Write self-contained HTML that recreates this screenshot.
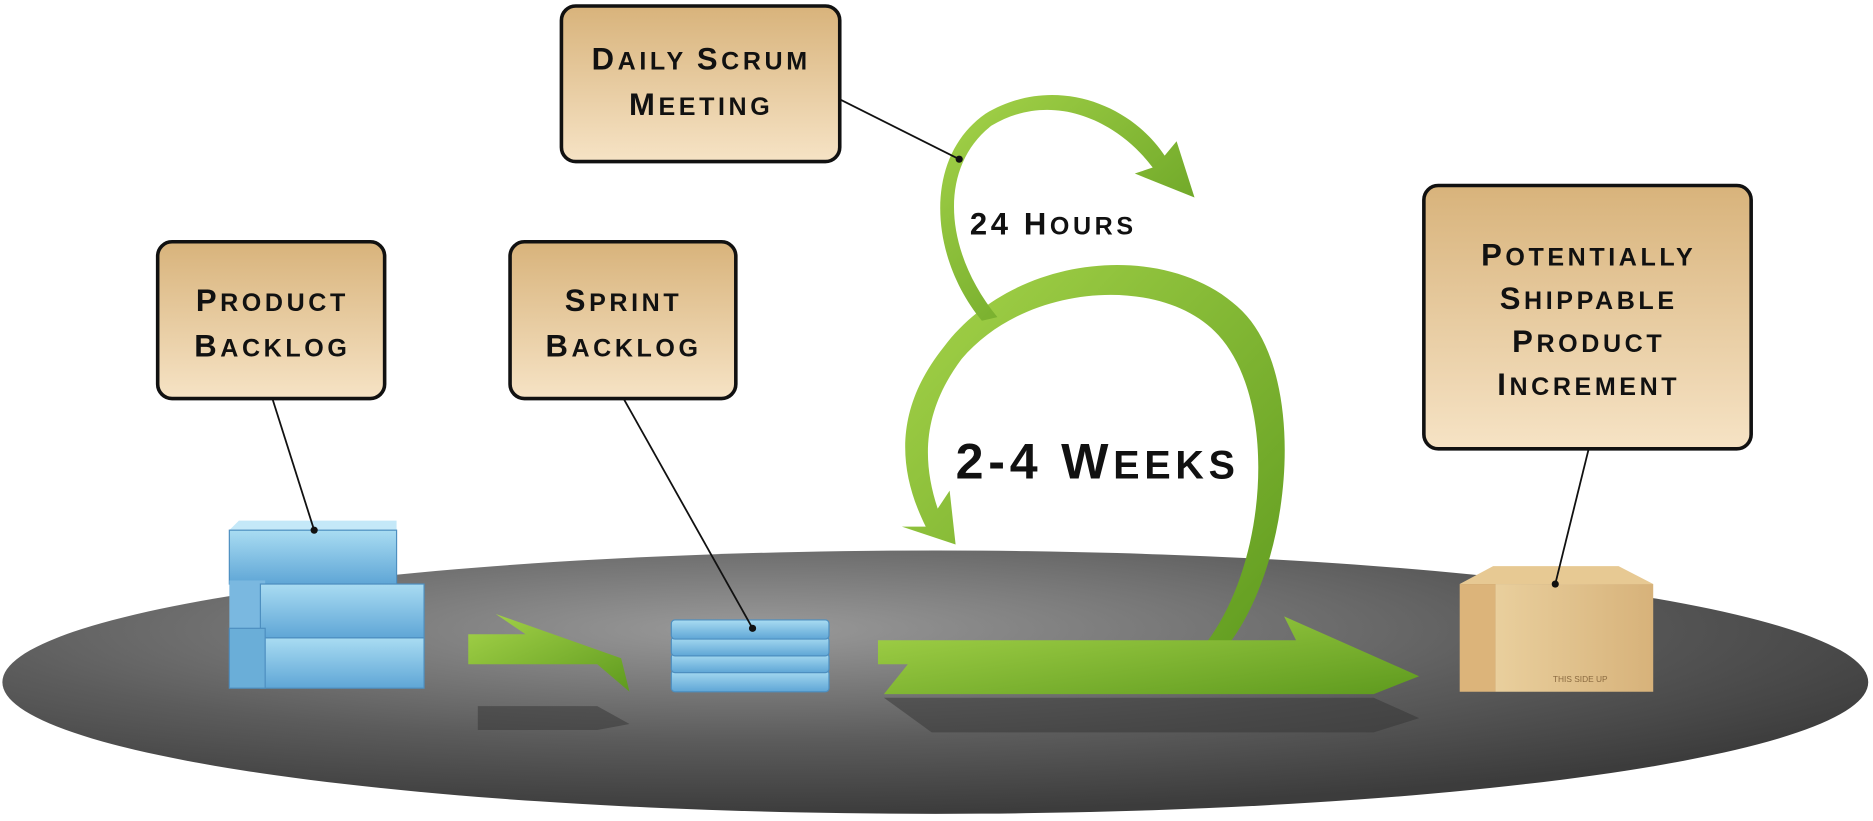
<!DOCTYPE html>
<html><head><meta charset="utf-8"><style>
html,body{margin:0;padding:0;background:#fff;}
svg{display:block;}
text{font-family:"Liberation Sans",sans-serif;font-weight:bold;fill:#111;letter-spacing:3px;}
.b{font-size:21px;}
.b tspan.c{font-size:26px;}
</style></head><body>
<svg width="1873" height="821" viewBox="0 0 1568 686" preserveAspectRatio="none">
<defs>
<radialGradient id="plat" cx="0.4" cy="0.3" r="0.7">
<stop offset="0" stop-color="#9a9a9a"/><stop offset="0.6" stop-color="#5c5c5c"/><stop offset="1" stop-color="#3c3c3c"/>
</radialGradient>
<linearGradient id="tan" x1="0" y1="0" x2="0" y2="1">
<stop offset="0" stop-color="#d8b37b"/><stop offset="1" stop-color="#f6e3c5"/>
</linearGradient>
<linearGradient id="grn" x1="0" y1="0" x2="1" y2="1">
<stop offset="0" stop-color="#a6d44a"/><stop offset="1" stop-color="#5e9a1e"/>
</linearGradient>
<linearGradient id="blu" x1="0" y1="0" x2="0" y2="1">
<stop offset="0" stop-color="#a9dcf2"/><stop offset="1" stop-color="#5fa6d6"/>
</linearGradient>
<linearGradient id="box" x1="0" y1="0" x2="1" y2="0">
<stop offset="0" stop-color="#e9cf9d"/><stop offset="1" stop-color="#d7b27a"/>
</linearGradient>
</defs>

<ellipse cx="783" cy="570" rx="781" ry="110" fill="url(#plat)"/>

<polygon points="400,590 500,590 527,605 500,610 400,610" fill="#333" opacity="0.5"/>
<polygon points="740,583 1150,583 1188,600 1150,612 780,612" fill="#333" opacity="0.5"/>

<g>
<polygon points="192,443 200,435 332,435 332,443" fill="#c4e8f8"/>
<rect x="192" y="443" width="140" height="45" fill="url(#blu)" stroke="#4d8fc0"/>
<rect x="192" y="485" width="30" height="90" fill="#7ab8e0"/>
<rect x="218" y="488" width="137" height="45" fill="url(#blu)" stroke="#4d8fc0"/>
<rect x="218" y="533" width="137" height="42" fill="url(#blu)" stroke="#4d8fc0"/>
<rect x="192" y="525" width="30" height="50" fill="#6aaed8" stroke="#4d8fc0"/>
</g>

<polygon points="392,530 440,530 415,513 520,550 527,578 500,555 392,555" fill="url(#grn)"/>

<g>
<rect x="562" y="560" width="132" height="18" rx="3" fill="url(#blu)" stroke="#4d8fc0"/>
<rect x="562" y="546" width="132" height="16" rx="3" fill="url(#blu)" stroke="#4d8fc0"/>
<rect x="562" y="532" width="132" height="16" rx="3" fill="url(#blu)" stroke="#4d8fc0"/>
<rect x="562" y="518" width="132" height="16" rx="3" fill="url(#blu)" stroke="#4d8fc0"/>
</g>

<path d="M1010,558 C1080,500 1100,320 1040,260 C980,200 850,210 790,290 C750,340 750,390 775,440 L755,440 L800,455 L795,410 L785,425 C770,380 775,340 805,300 C860,235 975,230 1020,280 C1075,340 1060,500 990,558 Z" fill="url(#grn)"/>
<polygon points="735,535 1085,535 1075,515 1188,565 1150,580 740,580 760,555 735,555" fill="url(#grn)"/>
<path d="M835,265 C790,210 785,140 830,105 C880,75 935,100 965,140 L950,145 L1000,165 L985,118 L975,130 C945,85 880,62 825,95 C772,132 778,215 822,268 Z" fill="url(#grn)"/>

<g>
<polygon points="1222,488 1250,473 1355,473 1384,488" fill="#e7c993"/>
<rect x="1222" y="488" width="30" height="90" fill="#dcb47a"/>
<rect x="1252" y="488" width="132" height="90" fill="url(#box)"/>
<text x="1300" y="570" style="font-size:7px;letter-spacing:0;fill:#8a6a40;font-weight:normal">THIS SIDE UP</text>
</g>

<g stroke="#111" stroke-width="1.5">
<line x1="703" y1="83" x2="803" y2="133"/>
<line x1="228" y1="333" x2="263" y2="443"/>
<line x1="522" y1="333" x2="630" y2="525"/>
<line x1="1330" y1="375" x2="1302" y2="488"/>
</g>
<g fill="#111"><circle cx="803" cy="133" r="3"/><circle cx="263" cy="443" r="3"/><circle cx="630" cy="525" r="3"/><circle cx="1302" cy="488" r="3"/></g>

<g>
<rect x="470" y="5" width="233" height="130" rx="12" fill="url(#tan)" stroke="#111" stroke-width="3"/>
<text class="b" x="587" y="58" text-anchor="middle"><tspan class="c">D</tspan>AILY <tspan class="c">S</tspan>CRUM</text>
<text class="b" x="587" y="96" text-anchor="middle"><tspan class="c">M</tspan>EETING</text>
</g>
<g>
<rect x="132" y="202" width="190" height="131" rx="12" fill="url(#tan)" stroke="#111" stroke-width="3"/>
<text class="b" x="228" y="260" text-anchor="middle"><tspan class="c">P</tspan>RODUCT</text>
<text class="b" x="228" y="298" text-anchor="middle"><tspan class="c">B</tspan>ACKLOG</text>
</g>
<g>
<rect x="427" y="202" width="189" height="131" rx="12" fill="url(#tan)" stroke="#111" stroke-width="3"/>
<text class="b" x="522" y="260" text-anchor="middle"><tspan class="c">S</tspan>PRINT</text>
<text class="b" x="522" y="298" text-anchor="middle"><tspan class="c">B</tspan>ACKLOG</text>
</g>
<g>
<rect x="1192" y="155" width="274" height="220" rx="12" fill="url(#tan)" stroke="#111" stroke-width="3"/>
<text class="b" x="1330" y="222" text-anchor="middle"><tspan class="c">P</tspan>OTENTIALLY</text>
<text class="b" x="1330" y="258" text-anchor="middle"><tspan class="c">S</tspan>HIPPABLE</text>
<text class="b" x="1330" y="294" text-anchor="middle"><tspan class="c">P</tspan>RODUCT</text>
<text class="b" x="1330" y="330" text-anchor="middle"><tspan class="c">I</tspan>NCREMENT</text>
</g>

<text x="812" y="196" style="font-size:21px"><tspan style="font-size:26px">24 H</tspan>OURS</text>
<text x="800" y="400" style="font-size:33px;letter-spacing:4px"><tspan style="font-size:42px">2-4 W</tspan>EEKS</text>
</svg>
</body></html>
